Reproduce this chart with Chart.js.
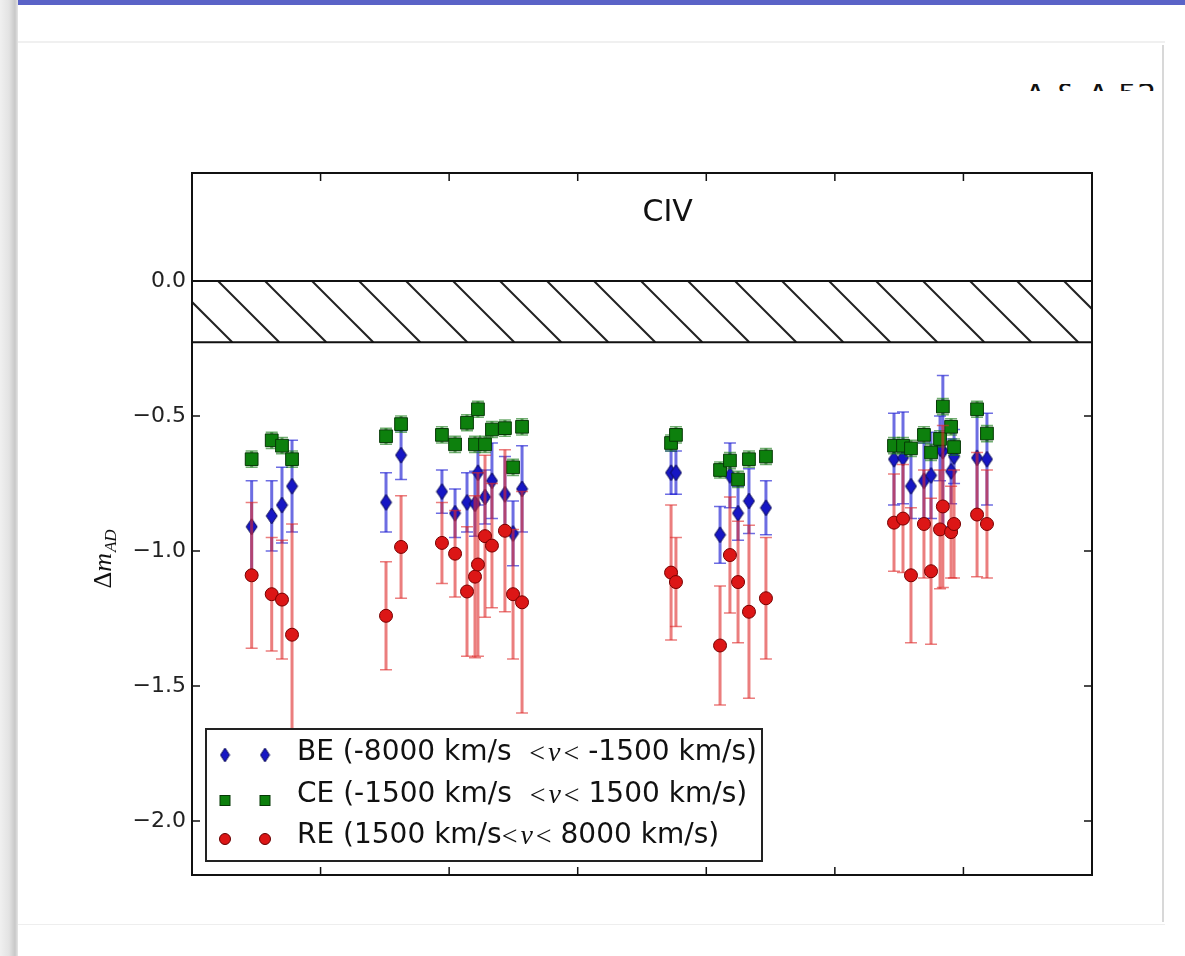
<!DOCTYPE html>
<html>
<head>
<meta charset="utf-8">
<script src="https://cdn.jsdelivr.net/npm/chart.js@4.4.0/dist/chart.umd.min.js"></script>
<style>
  html, body { margin: 0; padding: 0; background: #fff; }
  body { width: 1185px; height: 956px; position: relative; overflow: hidden; font-family: "DejaVu Sans", sans-serif; }
  #topbar { position: absolute; left: 6px; top: 0; width: 1179px; height: 5px; background: #5a63c7; }
  #leftstrip { position: absolute; left: 0; top: 0; width: 18px; height: 956px;
    background: linear-gradient(to right, #f0f0f0 0, #e3e3e3 9px, #c8c8c8 15px, #e6e6e6 18px); }
  #hline { position: absolute; left: 18px; top: 41px; width: 1147px; height: 2px; background: #f0f0f0; }
  #vline { position: absolute; left: 1162px; top: 45px; width: 2px; height: 877px; background: #d8d8d8; }
  #bline { position: absolute; left: 18px; top: 924px; width: 1147px; height: 1px; background: #eeeeee; }
  #cut { position: absolute; left: 1020px; top: 84px; width: 141px; height: 7px; overflow: hidden; }
  #cut span { position: absolute; left: 5px; top: -4px; font-size: 30px; line-height: 30px; white-space: nowrap; color: #111; }
  #chart { position: absolute; left: 0; top: 0; }
</style>
</head>
<body>
<div id="topbar"></div>
<div id="leftstrip"></div>
<div id="hline"></div>
<div id="vline"></div>
<div id="bline"></div>
<div id="cut"><span>A &amp; A 52</span></div>
<canvas id="chart" width="1185" height="956"></canvas>
<script>
// positions along the (unlabelled) x axis, one per object
const xPos = [0.464, 0.620, 0.700, 0.778, 1.509, 1.626,
  1.944, 2.046, 2.139, 2.201, 2.224, 2.279, 2.333, 2.434, 2.497, 2.567,
  3.726, 3.764, 4.107, 4.184, 4.247, 4.332, 4.464,
  5.460, 5.530, 5.592, 5.693, 5.748, 5.840, 5.818, 5.904, 5.927, 6.106, 6.183];

// BE (blue edge)
const beVals = [-0.91, -0.87, -0.83, -0.76, -0.82, -0.645,
  -0.78, -0.86, -0.82, -0.825, -0.71, -0.80, -0.74, -0.79, -0.935, -0.77,
  -0.71, -0.71, -0.94, -0.72, -0.86, -0.815, -0.84,
  -0.66, -0.655, -0.76, -0.74, -0.72, -0.63, -0.62, -0.705, -0.65, -0.655, -0.66];
const beErr = [0.17, 0.13, 0.14, 0.17, 0.11, 0.09,
  0.08, 0.09, 0.11, 0.12, 0.12, 0.10, 0.14, 0.14, 0.12, 0.16,
  0.08, 0.08, 0.105, 0.12, 0.10, 0.12, 0.10,
  0.17, 0.17, 0.12, 0.14, 0.16, 0.28, 0.12, 0.12, 0.10, 0.20, 0.17];

// CE (core)
const ceVals = [-0.66, -0.59, -0.61, -0.66, -0.575, -0.53,
  -0.57, -0.605, -0.525, -0.605, -0.475, -0.605, -0.55, -0.545, -0.69, -0.54,
  -0.60, -0.57, -0.70, -0.665, -0.735, -0.66, -0.65,
  -0.61, -0.61, -0.62, -0.57, -0.635, -0.465, -0.585, -0.54, -0.615, -0.475, -0.565];
const ceErr = [0.03, 0.03, 0.03, 0.03, 0.03, 0.03,
  0.03, 0.03, 0.03, 0.03, 0.03, 0.03, 0.03, 0.03, 0.03, 0.03,
  0.03, 0.03, 0.03, 0.03, 0.03, 0.03, 0.03,
  0.03, 0.03, 0.03, 0.03, 0.03, 0.03, 0.03, 0.03, 0.03, 0.03, 0.03];

// RE (red edge)
const reVals = [-1.09, -1.16, -1.18, -1.31, -1.24, -0.985,
  -0.97, -1.01, -1.15, -1.095, -1.05, -0.945, -0.98, -0.925, -1.16, -1.19,
  -1.08, -1.115, -1.35, -1.015, -1.115, -1.225, -1.175,
  -0.895, -0.88, -1.09, -0.90, -1.075, -0.835, -0.92, -0.93, -0.90, -0.865, -0.90];
const reErr = [0.27, 0.21, 0.22, 0.41, 0.20, 0.19,
  0.15, 0.16, 0.24, 0.30, 0.34, 0.30, 0.23, 0.30, 0.24, 0.41,
  0.25, 0.165, 0.22, 0.215, 0.225, 0.32, 0.225,
  0.18, 0.20, 0.25, 0.20, 0.27, 0.30, 0.22, 0.17, 0.20, 0.23, 0.20];

const yTickValues = [0.0, -0.5, -1.0, -1.5, -2.0];
const yTickLabels = ["0.0", "\u22120.5", "\u22121.0", "\u22121.5", "\u22122.0"];
const xTickValues = [1, 2, 3, 4, 5, 6];
const hatchBand = [0.0, -0.227];
const panelTitle = "CIV";
const legendPre = ["BE (-8000 km/s  ", "CE (-1500 km/s  ", "RE (1500 km/s"];
const legendPost = [" -1500 km/s)", " 1500 km/s)", " 8000 km/s)"];

const BLUE = "#1616c4", GREEN = "#0d800d", RED = "#dc1616";

function diamondImage(w, h, fill) {
    const c = document.createElement("canvas");
    c.width = w + 2; c.height = h + 2;
    const g = c.getContext("2d");
    g.beginPath();
    g.moveTo(c.width / 2, 1);
    g.lineTo(c.width - 1, c.height / 2);
    g.lineTo(c.width / 2, c.height - 1);
    g.lineTo(1, c.height / 2);
    g.closePath();
    g.fillStyle = fill; g.fill();
    g.strokeStyle = "#0a0a55"; g.lineWidth = 1; g.stroke();
    return c;
}
const diamond = diamondImage(11, 16, BLUE);
const smallDiamond = diamondImage(9, 14, BLUE);

function toPoints(vals) {
    return vals.map((v, i) => ({ x: xPos[i], y: v }));
}

// error bars, drawn just before each dataset's markers
const errorBars = {
    id: "errorBars",
    beforeDatasetDraw(chart, args) {
        const ds = chart.data.datasets[args.index];
        const { ctx, chartArea: a } = chart;
        const xs = chart.scales.x, ys = chart.scales.y;
        ctx.save();
        ctx.beginPath();
        ctx.rect(a.left, a.top, a.right - a.left, a.bottom - a.top);
        ctx.clip();
        ctx.strokeStyle = ds.errColor;
        ctx.lineWidth = 3;
        ds.data.forEach((p, i) => {
            const e = ds.errors[i];
            const px = xs.getPixelForValue(p.x);
            const y1 = ys.getPixelForValue(p.y + e), y2 = ys.getPixelForValue(p.y - e);
            ctx.beginPath();
            ctx.moveTo(px, y1); ctx.lineTo(px, y2);
            ctx.stroke();
            ctx.save();
            ctx.lineWidth = 1.5;
            ctx.beginPath();
            ctx.moveTo(px - 6, y1); ctx.lineTo(px + 6, y1);
            ctx.moveTo(px - 6, y2); ctx.lineTo(px + 6, y2);
            ctx.stroke();
            ctx.restore();
        });
        ctx.restore();
    }
};

// hatched band between 0.0 and the lower limit
const hatch = {
    id: "hatch",
    beforeDatasetsDraw(chart) {
        const { ctx, chartArea: a } = chart;
        const ys = chart.scales.y;
        const top = ys.getPixelForValue(hatchBand[0]), bot = ys.getPixelForValue(hatchBand[1]);
        const h = bot - top;
        ctx.save();
        ctx.beginPath();
        ctx.rect(a.left, top, a.right - a.left, h);
        ctx.clip();
        ctx.strokeStyle = "#222";
        ctx.lineWidth = 2;
        for (let k = 26 - 47; k < a.right - a.left + 10; k += 47) {
            ctx.beginPath();
            ctx.moveTo(a.left + k, top);
            ctx.lineTo(a.left + k + h, bot);
            ctx.stroke();
        }
        ctx.restore();
        ctx.save();
        ctx.strokeStyle = "#111";
        ctx.lineWidth = 2;
        ctx.beginPath();
        ctx.moveTo(a.left, top); ctx.lineTo(a.right, top);
        ctx.moveTo(a.left, bot); ctx.lineTo(a.right, bot);
        ctx.stroke();
        ctx.restore();
    }
};

function drawLegend(ctx) {
    const bx = 206, by = 729, bw = 556, bh = 132;
    ctx.save();
    ctx.fillStyle = "#fff";
    ctx.fillRect(bx, by, bw, bh);
    ctx.strokeStyle = "#222";
    ctx.lineWidth = 2;
    ctx.strokeRect(bx, by, bw, bh);
    ctx.textBaseline = "middle";
    for (let r = 0; r < 3; r++) {
        const y = 753 + r * 41.5;
        [225, 265].forEach(mx => {
            if (r === 0) {
                ctx.drawImage(smallDiamond, mx - smallDiamond.width / 2, y + 2 - smallDiamond.height / 2);
            } else if (r === 1) {
                ctx.fillStyle = GREEN;
                ctx.fillRect(mx - 5, y + 1, 10, 10);
                ctx.strokeStyle = "#063806"; ctx.lineWidth = 1;
                ctx.strokeRect(mx - 5, y + 1, 10, 10);
            } else {
                ctx.fillStyle = RED;
                ctx.beginPath(); ctx.arc(mx, y + 3, 5.5, 0, Math.PI * 2); ctx.fill();
                ctx.strokeStyle = "#600"; ctx.lineWidth = 1; ctx.stroke();
            }
        });
        let x = 297;
        ctx.fillStyle = "#111";
        ctx.font = '28px "DejaVu Sans"';
        ctx.fillText(legendPre[r], x, y);
        x += ctx.measureText(legendPre[r]).width;
        ctx.font = '28px "Liberation Serif"';
        ctx.fillText("<", x, y + 2); x += ctx.measureText("<").width + 3;
        ctx.font = 'italic 28px "Liberation Serif"';
        ctx.fillText("v", x, y + 1); x += ctx.measureText("v").width + 3;
        ctx.font = '28px "Liberation Serif"';
        ctx.fillText("<", x, y + 2); x += ctx.measureText("<").width;
        ctx.font = '28px "DejaVu Sans"';
        ctx.fillText(legendPost[r], x, y);
    }
    ctx.restore();
}

const decorations = {
    id: "decorations",
    afterDraw(chart) {
        const { ctx, chartArea: a } = chart;
        const xs = chart.scales.x, ys = chart.scales.y;
        ctx.save();
        // inward ticks
        ctx.strokeStyle = "#111";
        ctx.lineWidth = 1.5;
        ctx.beginPath();
        yTickValues.forEach(v => {
            const py = ys.getPixelForValue(v);
            ctx.moveTo(a.left, py); ctx.lineTo(a.left + 8, py);
            ctx.moveTo(a.right, py); ctx.lineTo(a.right - 8, py);
        });
        xTickValues.forEach(v => {
            const px = xs.getPixelForValue(v);
            ctx.moveTo(px, a.bottom); ctx.lineTo(px, a.bottom - 8);
            ctx.moveTo(px, a.top); ctx.lineTo(px, a.top + 8);
        });
        ctx.stroke();
        // frame
        ctx.lineWidth = 2;
        ctx.strokeStyle = "#111";
        ctx.strokeRect(a.left, a.top, a.right - a.left, a.bottom - a.top);
        // panel title
        ctx.fillStyle = "#111";
        ctx.font = '30px "DejaVu Sans"';
        ctx.textAlign = "center";
        ctx.textBaseline = "middle";
        ctx.fillText(panelTitle, xs.getPixelForValue(3.7), ys.getPixelForValue(0.25));
        // y axis title: Delta m_AD
        ctx.translate(103, 559);
        ctx.rotate(-Math.PI / 2);
        ctx.textAlign = "left";
        ctx.textBaseline = "alphabetic";
        ctx.font = '26px "Liberation Serif"';
        const wD = ctx.measureText("\u0394").width;
        ctx.font = 'italic 26px "Liberation Serif"';
        const wm = ctx.measureText("m").width;
        ctx.font = 'italic 17px "Liberation Serif"';
        const wAD = ctx.measureText("AD").width;
        let x = -(wD + wm + wAD + 1) / 2;
        ctx.font = '26px "Liberation Serif"';
        ctx.fillText("\u0394", x, 8); x += wD;
        ctx.font = 'italic 26px "Liberation Serif"';
        ctx.fillText("m", x, 8); x += wm + 1;
        ctx.font = 'italic 17px "Liberation Serif"';
        ctx.fillText("AD", x, 13);
        ctx.restore();
        drawLegend(ctx);
    }
};

new Chart(document.getElementById("chart").getContext("2d"), {
    type: "scatter",
    data: {
        datasets: [
            {
                label: "BE", data: toPoints(beVals), errors: beErr, errColor: "rgba(30,30,210,0.65)",
                pointStyle: diamond, pointRadius: 8, order: 3
            },
            {
                label: "CE", data: toPoints(ceVals), errors: ceErr, errColor: "rgba(20,120,20,0.6)",
                pointStyle: "rect", pointRadius: 9, backgroundColor: GREEN,
                borderColor: "#063806", borderWidth: 1, order: 2
            },
            {
                label: "RE", data: toPoints(reVals), errors: reErr, errColor: "rgba(222,40,40,0.6)",
                pointStyle: "circle", pointRadius: 6.5, backgroundColor: RED,
                borderColor: "#700", borderWidth: 1, order: 1
            }
        ]
    },
    options: {
        responsive: false,
        animation: false,
        devicePixelRatio: 1,
        layout: { padding: { top: 173, right: 93, bottom: 0, left: 0 } },
        plugins: { legend: { display: false }, tooltip: { enabled: false } },
        scales: {
            x: {
                min: 0, max: 7,
                grid: { display: false, drawTicks: false },
                border: { display: false },
                ticks: { display: false },
                afterFit: s => { s.height = 81; }
            },
            y: {
                min: -2.2, max: 0.4,
                grid: { display: false, drawTicks: false },
                border: { display: false },
                afterBuildTicks: s => { s.ticks = yTickValues.map(v => ({ value: v })); },
                ticks: {
                    padding: 6,
                    color: "#222",
                    font: { family: "DejaVu Sans", size: 22 },
                    callback: (v, i) => yTickLabels[i]
                },
                afterFit: s => { s.width = 192; }
            }
        }
    },
    plugins: [hatch, errorBars, decorations]
});
</script>
</body>
</html>
